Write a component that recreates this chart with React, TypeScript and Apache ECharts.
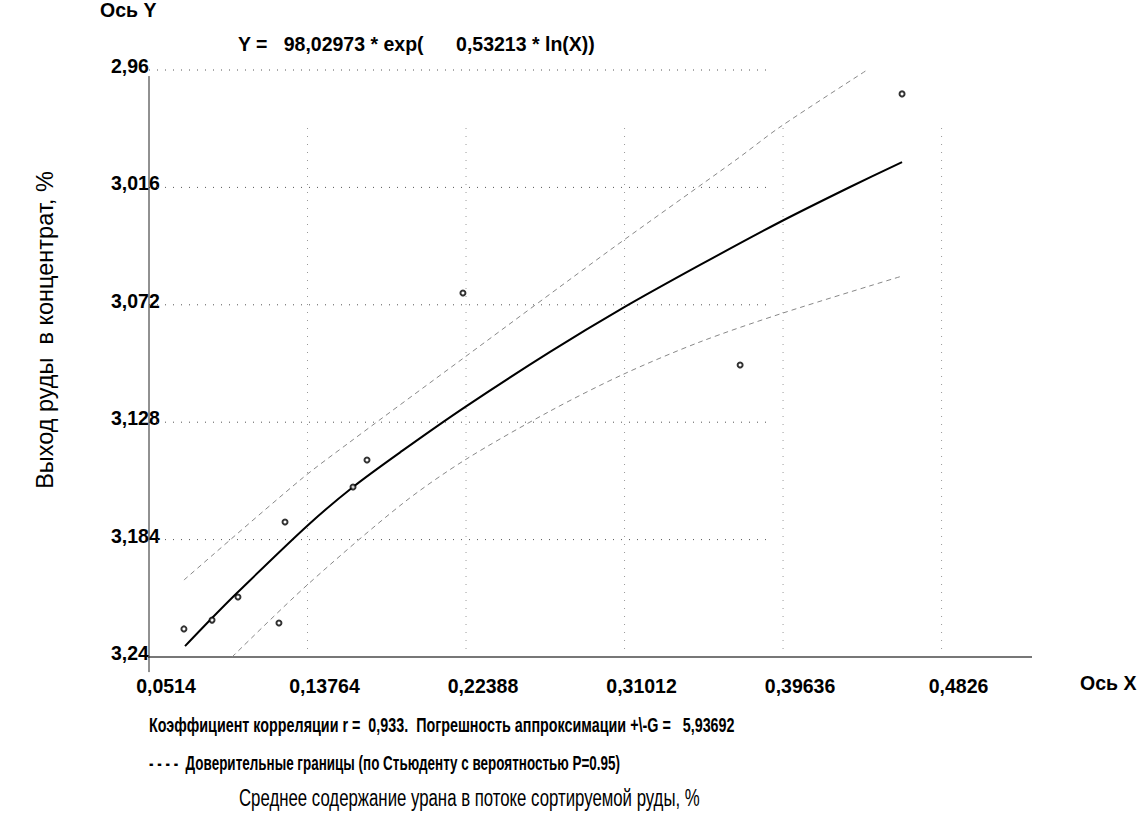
import React, { useEffect, useRef } from "react";
import * as echarts from "echarts";

// ---- data ----
const xTicks = [0.0514, 0.13764, 0.22388, 0.31012, 0.39636, 0.4826];
const yTicks = [2.96, 3.016, 3.072, 3.128, 3.184, 3.24];

const pointX = [0.0704, 0.0857, 0.0998, 0.1221, 0.1254, 0.1624, 0.17, 0.2222, 0.373, 0.4611];
const pointY = [3.2266, 3.2224, 3.2114, 3.2238, 3.1756, 3.1589, 3.146, 3.0664, 3.1007, 2.9714];

const fitX = [0.071, 0.0857, 0.0998, 0.1374, 0.1624, 0.1891, 0.2233, 0.2696, 0.3093, 0.3512, 0.3947, 0.4328, 0.4611];
const fitY = [3.2348, 3.2214, 3.209, 3.1775, 3.1589, 3.1417, 3.1208, 3.0945, 3.0735, 3.053, 3.0325, 3.0158, 3.0039];

const upperX = [0.0704, 0.1336, 0.1608, 0.2233, 0.3022, 0.3713, 0.3947, 0.4421];
const upperY = [3.2033, 3.1556, 3.1374, 3.0969, 3.0459, 3.0025, 2.9872, 2.96];

const lowerX = [0.0966, 0.1374, 0.1891, 0.2233, 0.2696, 0.3093, 0.3512, 0.3964, 0.4611];
const lowerY = [3.24, 3.2057, 3.167, 3.146, 3.1227, 3.1052, 3.0897, 3.0759, 3.0583];

const xMin = 0.0514;
const xMax = 0.5318;
const yMin = 2.96;
const yMax = 3.24;
const hGridEndX = 0.3893;
const vGridTopY = 2.9862;
const xAxisStart = 0.0438;
const yAxisTop = 2.9629;
const yAxisBottom = 3.2472;

const formulaText = "Y =   98,02973 * exp(      0,53213 * ln(X))";
const corrText = "Коэффициент корреляции r =  0,933.  Погрешность аппроксимации +\\-G =   5,93692";
const confText = "- - - -  Доверительные границы (по Стьюденту с вероятностью P=0.95)";
const xTitle = "Среднее содержание урана в потоке сортируемой руды, %";
const yTitle = "Выход руды  в концентрат, %";

const FONT = "'Liberation Sans', Arial, sans-serif";

const zip = (xs: number[], ys: number[]) => xs.map((x, i) => [x, ys[i]]);
const comma = (v: number) => String(v).replace(".", ",");

export default function App() {
  const ref = useRef<HTMLDivElement>(null);
  useEffect(() => {
    if (!ref.current) return;
    const chart = echarts.init(ref.current, null, { renderer: "svg" });

    const lineSeries = (data: number[][], style: any, z = 2, smooth: any = false) => ({
      type: "line",
      data,
      symbol: "none",
      silent: true,
      clip: false,
      smooth,
      z,
      lineStyle: style,
    });

    const series: any[] = [];
    yTicks.slice(0, -1).forEach((y) => {
      series.push(lineSeries([[xMin, y], [hGridEndX, y]], { color: "#555", width: 1, type: [1, 7] }, 1));
    });
    xTicks.slice(1).forEach((x) => {
      series.push(lineSeries([[x, yMax], [x, vGridTopY]], { color: "#999", width: 1, type: [1, 7] }, 1));
    });
    series.push(lineSeries([[xAxisStart, yMax], [xMax, yMax]], { color: "#777", width: 2 }, 3));
    series.push(lineSeries([[xMin, yAxisTop], [xMin, yAxisBottom]], { color: "#222", width: 1 }, 3));
    series.push(lineSeries(zip(upperX, upperY), { color: "#888", width: 1, type: [5, 4] }, 4, 0.3));
    series.push(lineSeries(zip(lowerX, lowerY), { color: "#888", width: 1, type: [5, 4] }, 4, 0.3));
    series.push(lineSeries(zip(fitX, fitY), { color: "#000", width: 2 }, 5, 0.3));
    series.push({
      type: "scatter",
      data: zip(pointX, pointY),
      symbol: "circle",
      symbolSize: 5,
      z: 6,
      itemStyle: { color: "#fff", borderColor: "#000", borderWidth: 2 },
    });

    const labelStyle = {
      fontFamily: FONT,
      fontWeight: "bold" as const,
      fontSize: 19.5,
      color: "#000",
    };

    const txt = (text: string, x: number, y: number, font: string, scaleX = 1) => ({
      type: "text",
      x,
      y,
      scaleX,
      style: { text, font, fill: "#000", align: "left", verticalAlign: "top" },
    });

    chart.setOption({
      animation: false,
      backgroundColor: "#fff",
      grid: { left: 149, right: 109, top: 70, bottom: 160, containLabel: false },
      xAxis: {
        type: "value",
        min: xMin,
        max: xMax,
        axisLine: { show: false },
        axisTick: { show: false },
        splitLine: { show: false },
        axisLabel: {
          ...labelStyle,
          customValues: xTicks,
          formatter: comma,
          margin: 19,
          align: "center",
          padding: [0, 0, 0, 34],
        },
      },
      yAxis: {
        type: "value",
        inverse: true,
        min: yMin,
        max: yMax,
        axisLine: { show: false },
        axisTick: { show: false },
        splitLine: { show: false },
        axisLabel: {
          ...labelStyle,
          customValues: yTicks,
          formatter: comma,
          margin: 38,
          align: "left",
          verticalAlign: "bottom",
          lineHeight: 8,
        },
      },
      series,
      graphic: [
        txt("Ось Y", 100, 0, `bold 19.5px ${FONT}`),
        txt(formulaText, 238, 34, `bold 19.5px ${FONT}`),
        txt("Ось X", 1080, 673, `bold 19.5px ${FONT}`),
        txt(corrText, 149, 716, `bold 19.5px ${FONT}`, 0.735),
        txt(confText, 149, 754, `bold 19.5px ${FONT}`, 0.69),
        txt(xTitle, 239, 786, `23px ${FONT}`, 0.73),
        {
          type: "text",
          x: 45,
          y: 330,
          rotation: Math.PI / 2,
          style: { text: yTitle, font: `23.5px ${FONT}`, fill: "#000", align: "center", verticalAlign: "middle" },
        },
      ],
    });
    return () => chart.dispose();
  }, []);
  return <div ref={ref} style={{ position: "absolute", left: 0, top: 0, width: 1141, height: 817 }} />;
}
